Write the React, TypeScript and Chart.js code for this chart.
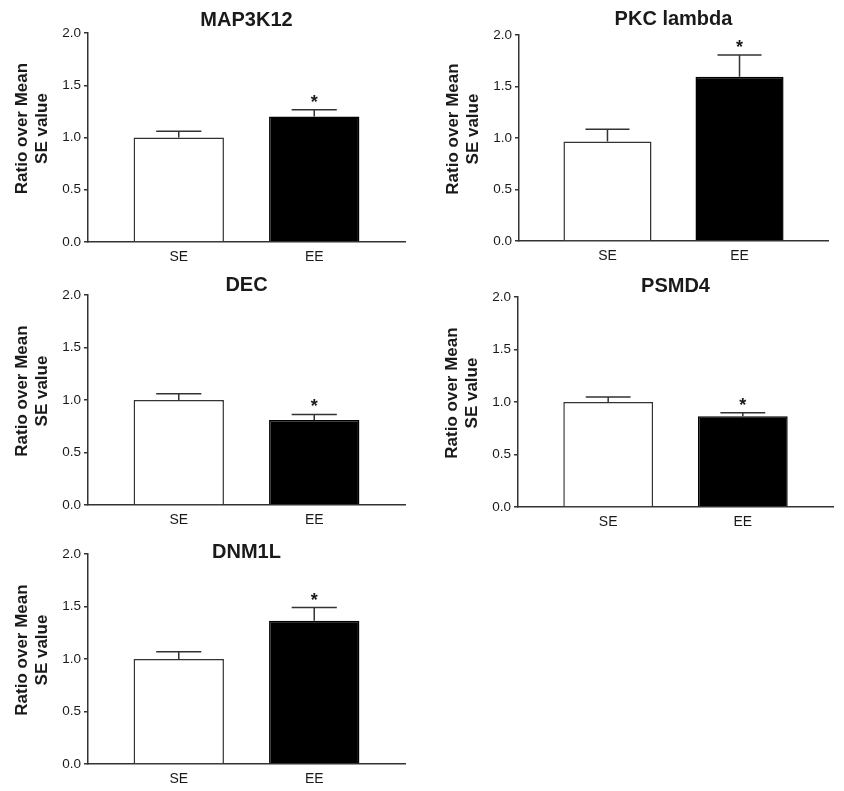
import React, { useEffect, useRef } from 'react';
import { Chart, registerables } from 'chart.js';

Chart.register(...registerables);

// ---- data ----
const panelTitles = ['MAP3K12', 'PKC lambda', 'DEC', 'PSMD4', 'DNM1L'];
const groups = ['SE', 'EE'];
const seMeans = [1.0, 0.965, 1.0, 1.0, 1.0];
const eeMeans = [1.2, 1.595, 0.81, 0.865, 1.365];
const seErrors = [0.06, 0.12, 0.06, 0.048, 0.07];
const eeErrors = [0.065, 0.21, 0.052, 0.033, 0.125];
const eeSignificant = [true, true, true, true, true];
const seSignificant = [false, false, false, false, false];
const yTickValues = [0, 0.5, 1.0, 1.5, 2.0];
const yTitleLines = ['Ratio over Mean', 'SE value'];

// ---- layout (page pixels) ----
const layouts = [
  { left: 0, top: 0, w: 420, h: 265, L: 88, R: 405, T: 33, B: 242, titleY: 26 },
  { left: 420, top: 0, w: 424, h: 265, L: 519, R: 828, T: 35, B: 241, titleY: 25 },
  { left: 0, top: 265, w: 420, h: 265, L: 88, R: 405, T: 295, B: 505, titleY: 291 },
  { left: 420, top: 265, w: 424, h: 265, L: 518, R: 833, T: 297, B: 507, titleY: 292 },
  { left: 0, top: 530, w: 420, h: 261, L: 88, R: 405, T: 554, B: 764, titleY: 558 },
];

const FONT = "Arial, 'Liberation Sans', Helvetica, sans-serif";
const AXIS = '#333';
const TEXT = '#1a1a1a';
const X_AXIS_H = 22;

function Panel({ index }: { index: number }) {
  const ref = useRef<HTMLCanvasElement>(null);
  const lay = layouts[index];

  useEffect(() => {
    if (!ref.current) return;
    const means = [seMeans[index], eeMeans[index]];
    const errs = [seErrors[index], eeErrors[index]];
    const sig = [seSignificant[index], eeSignificant[index]];

    const decor = {
      id: 'panelDecor',
      afterDatasetsDraw(chart: any) {
        const ctx = chart.ctx;
        const ys = chart.scales.y;
        const meta = chart.getDatasetMeta(0);
        const area = chart.chartArea;
        ctx.save();
        meta.data.forEach((bar: any, i: number) => {
          const top = ys.getPixelForValue(means[i] + errs[i]);
          const x = bar.x;
          const half = bar.width / 4;
          ctx.strokeStyle = AXIS;
          ctx.lineWidth = 1.5;
          ctx.beginPath();
          ctx.moveTo(x, bar.y);
          ctx.lineTo(x, top);
          ctx.moveTo(x - half, top);
          ctx.lineTo(x + half, top);
          ctx.stroke();
          if (sig[i]) {
            ctx.fillStyle = TEXT;
            ctx.font = `bold 18px ${FONT}`;
            ctx.textAlign = 'center';
            ctx.textBaseline = 'alphabetic';
            ctx.fillText('*', x, top - 2);
          }
        });
        // panel title
        ctx.fillStyle = TEXT;
        ctx.font = `bold 20px ${FONT}`;
        ctx.textAlign = 'center';
        ctx.textBaseline = 'alphabetic';
        ctx.fillText(panelTitles[index], (area.left + area.right) / 2, lay.titleY - lay.top);
        // y axis title
        ctx.font = `bold 17px ${FONT}`;
        const cy = (area.top + area.bottom) / 2 - 9;
        const offsets = [-61.5, -41];
        yTitleLines.forEach((line, k) => {
          ctx.save();
          ctx.translate(area.left + offsets[k], cy);
          ctx.rotate(-Math.PI / 2);
          ctx.fillText(line, 0, 0);
          ctx.restore();
        });
        ctx.restore();
      },
    };

    const chart = new Chart(ref.current, {
      type: 'bar',
      data: {
        datasets: [
          {
            data: means.map((m, i) => ({ x: i + 1, y: m })),
            backgroundColor: ['#ffffff', '#000000'],
            borderColor: [AXIS, '#000000'],
            borderWidth: 1.5,
            barPercentage: 0.667,
            categoryPercentage: 1,
          } as any,
        ],
      },
      options: {
        responsive: false,
        animation: false,
        devicePixelRatio: 1,
        layout: {
          padding: {
            left: 0,
            top: lay.T - lay.top,
            right: lay.left + lay.w - lay.R,
            bottom: lay.top + lay.h - lay.B - X_AXIS_H,
          },
        },
        plugins: {
          legend: { display: false },
          tooltip: { enabled: false },
          title: { display: false },
        },
        scales: {
          x: {
            type: 'linear',
            offset: false,
            min: 0.33,
            max: 2.67,
            afterBuildTicks: (s: any) => {
              s.ticks = groups.map((_, i) => ({ value: i + 1 }));
            },
            afterFit: (s: any) => {
              s.height = X_AXIS_H;
            },
            ticks: {
              callback: (v: any) => groups[Math.round(Number(v)) - 1] ?? '',
              font: { family: FONT, size: 14 },
              color: TEXT,
              padding: 7,
              maxRotation: 0,
              autoSkip: false,
            },
            grid: { display: false, drawTicks: false, offset: false },
            border: { display: true, color: AXIS, width: 1.5 },
          },
          y: {
            min: 0,
            max: 2,
            afterBuildTicks: (s: any) => {
              s.ticks = yTickValues.map((v) => ({ value: v }));
            },
            afterFit: (s: any) => {
              s.width = lay.L - lay.left;
            },
            ticks: {
              callback: (v: any) => Number(v).toFixed(1),
              font: { family: FONT, size: 13.5 },
              color: TEXT,
              padding: 3,
            },
            grid: {
              display: true,
              drawOnChartArea: false,
              drawTicks: true,
              tickLength: 4,
              color: AXIS,
              lineWidth: 1.5,
            },
            border: { display: true, color: AXIS, width: 1.5 },
          },
        },
      } as any,
      plugins: [decor],
    });
    return () => chart.destroy();
  }, [index]);

  return (
    <div style={{ position: 'absolute', left: lay.left, top: lay.top, width: lay.w, height: lay.h }}>
      <canvas ref={ref} width={lay.w} height={lay.h} style={{ width: lay.w, height: lay.h, display: 'block' }} />
    </div>
  );
}

export default function App() {
  return (
    <div style={{ position: 'absolute', left: 0, top: 0, width: 844, height: 791, background: '#fff' }}>
      {panelTitles.map((_, i) => (
        <Panel key={i} index={i} />
      ))}
    </div>
  );
}
